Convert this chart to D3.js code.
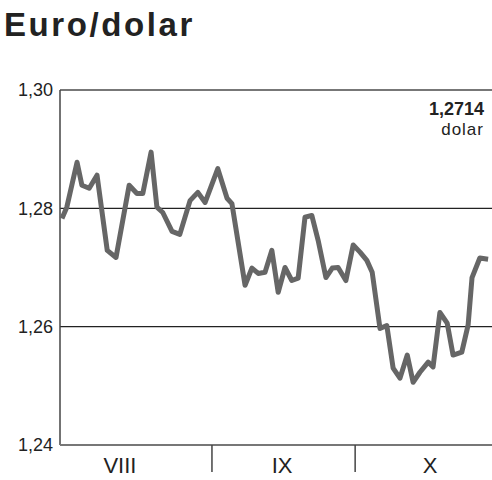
<!DOCTYPE html>
<style>
  body { margin: 0; background: #fff; }
  text { font-family: "Liberation Sans", Arial, sans-serif; }
</style>
<body></body>
<script src="https://cdn.jsdelivr.net/npm/d3@7"></script>
<script>
  const width = 492
  const height = 480
  const margin = {top: 90, right: 0, bottom: 35, left: 60}

  // day offset from 1 August
  const days = [0.4, 1.4, 3.5, 4.5, 6.0, 7.6, 9.7, 11.5, 14.2, 15.8, 17.0, 18.7, 19.9, 21.1,
    23.0, 24.6, 26.7, 28.3, 29.8, 32.4, 34.3, 35.3, 38.0, 39.4, 40.7, 42.1, 43.5, 44.8,
    46.2, 47.6, 48.9, 50.3, 51.7, 53.0, 54.6, 55.9, 57.1, 58.7, 60.2, 61.6, 63.0, 64.1,
    65.7, 67.1, 68.4, 69.8, 71.3, 72.5, 73.9, 75.6, 76.6, 78.0, 79.5, 80.7, 82.5, 83.8,
    84.6, 86.2, 87.9]
  const rates = [1.2783, 1.2802, 1.2878, 1.2839, 1.2834, 1.2856, 1.2729, 1.2717, 1.2839,
    1.2825, 1.2825, 1.2895, 1.2802, 1.2793, 1.2761, 1.2756, 1.2813, 1.2827, 1.2810, 1.2867,
    1.2817, 1.2808, 1.2670, 1.2699, 1.2690, 1.2692, 1.2729, 1.2658, 1.2700, 1.2678, 1.2682,
    1.2785, 1.2788, 1.2746, 1.2683, 1.2699, 1.2700, 1.2678, 1.2738, 1.2726, 1.2712, 1.2692,
    1.2597, 1.2602, 1.2530, 1.2513, 1.2552, 1.2506, 1.2523, 1.2540, 1.2532, 1.2624, 1.2606,
    1.2552, 1.2557, 1.2603, 1.2683, 1.2716, 1.2714]

  const months = ["VIII", "IX", "X"]
  const monthLabelDays = [12.3, 45.6, 76.0]
  const monthBreaks = [31.2, 60.6]
  const lastDay = 88.7
  const yTicks = [1.24, 1.26, 1.28, 1.30]
  const lastValue = "1,2714"

  const fmt = d => d3.format(".2f")(d).replace(".", ",")

  const svg = d3.select("body").append("svg")
    .attr("width", width)
    .attr("height", height)

  const x = d3.scaleLinear()
    .domain([0, lastDay])
    .range([margin.left, width - margin.right])

  const y = d3.scaleLinear()
    .domain([1.24, 1.30])
    .range([height - margin.bottom, margin.top])

  // title
  svg.append("text")
    .attr("x", 4)
    .attr("y", 36)
    .attr("font-size", 33)
    .attr("font-weight", "bold")
    .attr("letter-spacing", 2.6)
    .attr("fill", "#222")
    .text("Euro/dolar")

  // grid lines
  svg.append("g")
    .selectAll("line")
    .data(yTicks.filter(d => d > 1.24))
    .join("line")
    .attr("x1", margin.left)
    .attr("x2", width)
    .attr("y1", d => y(d))
    .attr("y2", d => y(d))
    .attr("stroke", d => d === 1.30 ? "#777" : "#222")
    .attr("stroke-width", d => d === 1.30 ? 2 : 1.2)

  // y labels
  svg.append("g")
    .selectAll("text")
    .data(yTicks)
    .join("text")
    .attr("x", 53)
    .attr("y", d => y(d))
    .attr("dy", "0.35em")
    .attr("text-anchor", "end")
    .attr("font-size", 18)
    .attr("fill", "#222")
    .text(fmt)

  // left axis line
  svg.append("line")
    .attr("x1", margin.left).attr("x2", margin.left)
    .attr("y1", y(1.30)).attr("y2", y(1.24))
    .attr("stroke", "#444")
    .attr("stroke-width", 1.5)

  // bottom axis
  svg.append("line")
    .attr("x1", margin.left).attr("x2", width)
    .attr("y1", y(1.24)).attr("y2", y(1.24))
    .attr("stroke", "#777")
    .attr("stroke-width", 2)

  svg.append("g")
    .selectAll("line")
    .data(monthBreaks)
    .join("line")
    .attr("x1", d => x(d)).attr("x2", d => x(d))
    .attr("y1", y(1.24)).attr("y2", y(1.24) + 27)
    .attr("stroke", "#444")
    .attr("stroke-width", 1.5)

  svg.append("g")
    .selectAll("text")
    .data(months)
    .join("text")
    .attr("x", (d, i) => x(monthLabelDays[i]))
    .attr("y", 473)
    .attr("text-anchor", "middle")
    .attr("font-size", 22)
    .attr("fill", "#222")
    .text(d => d)

  // rate line
  const line = d3.line()
    .x((d, i) => x(days[i]))
    .y(d => y(d))

  svg.append("path")
    .datum(rates)
    .attr("d", line)
    .attr("fill", "none")
    .attr("stroke", "#666")
    .attr("stroke-width", 5)
    .attr("stroke-linejoin", "round")

  // last value label
  svg.append("text")
    .attr("x", 484)
    .attr("y", 115)
    .attr("text-anchor", "end")
    .attr("font-size", 18)
    .attr("font-weight", "bold")
    .attr("fill", "#222")
    .text(lastValue)

  svg.append("text")
    .attr("x", 484)
    .attr("y", 135)
    .attr("text-anchor", "end")
    .attr("font-size", 17)
    .attr("letter-spacing", 1)
    .attr("fill", "#222")
    .text("dolar")
</script>
